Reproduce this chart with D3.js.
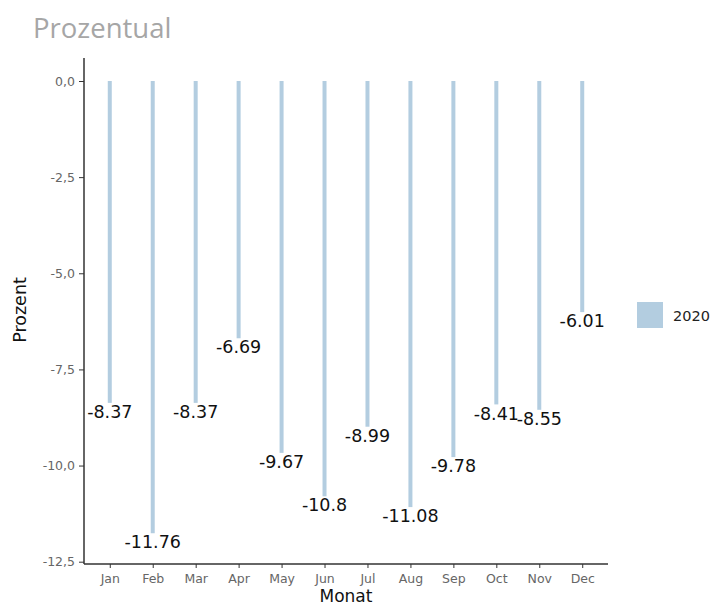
<!DOCTYPE html>
<html><head><meta charset="utf-8">
<script src="https://cdn.jsdelivr.net/npm/d3@7"></script>
<style>body{margin:0;background:#fff}svg{display:block}</style>
</head><body>
<script>
const months = ["Jan","Feb","Mar","Apr","May","Jun","Jul","Aug","Sep","Oct","Nov","Dec"];
const values2020 = [-8.37,-11.76,-8.37,-6.69,-9.67,-10.8,-8.99,-11.08,-9.78,-8.41,-8.55,-6.01];
const yTicks = [0,-2.5,-5,-7.5,-10,-12.5];
const seriesName = "2020";

(function(){
const W=715,H=606;
const svg=d3.select("body").append("svg").attr("width",W).attr("height",H);
const pLeft=84,pRight=608,pTop=58,pBottom=564;
const barColor="#b3cde0";

const x=d3.scalePoint().domain(months).range([pLeft,pRight]).padding(0.6);
const y=d3.scaleLinear().domain([-12.5,0]).range([561.7,81]);

svg.append("text").attr("x",33).attr("y",38).text("Prozentual")
  .attr("font-family","'Open Sans', 'Noto Sans', sans-serif").attr("font-size",27.5).attr("fill","#a6a6a6");

// bars
svg.selectAll("rect.bar").data(values2020).enter().append("rect")
  .attr("x",(d,i)=>x(months[i])-2).attr("width",4)
  .attr("y",y(0)).attr("height",d=>y(d)-y(0)).attr("fill",barColor);

// labels
svg.selectAll("text.lab").data(values2020).enter().append("text")
  .attr("x",(d,i)=>x(months[i])).attr("y",d=>y(d)+9).attr("dy","0.35em")
  .attr("text-anchor","middle").attr("font-family","'DejaVu Sans', sans-serif")
  .attr("font-size",17.5).attr("fill","#111").text(d=>String(d));

// axes
const fmt=d=>d3.format(".1f")(d).replace(".",",").replace("−","-");
const yAxis=svg.append("g").attr("transform",`translate(${pLeft},0)`)
  .call(d3.axisLeft(y).tickValues(yTicks).tickSize(5).tickPadding(4).tickFormat(fmt));
yAxis.select(".domain").remove();
svg.append("line").attr("x1",pLeft).attr("x2",pLeft).attr("y1",pTop).attr("y2",pBottom).attr("stroke","#333").attr("stroke-width",1.5);
yAxis.selectAll(".tick line").attr("stroke","#333");
yAxis.selectAll(".tick text").attr("font-family","'DejaVu Sans', sans-serif").attr("font-size",12.5).attr("fill","#666");

const xAxis=svg.append("g").attr("transform",`translate(0,${pBottom})`)
  .call(d3.axisBottom(x).tickSize(4).tickPadding(6));
xAxis.select(".domain").remove();
svg.append("line").attr("x1",pLeft).attr("x2",pRight).attr("y1",pBottom).attr("y2",pBottom).attr("stroke","#333").attr("stroke-width",1.5);
xAxis.selectAll(".tick line").attr("stroke","#333");
xAxis.selectAll(".tick text").attr("font-family","'DejaVu Sans', sans-serif").attr("font-size",12.5).attr("fill","#666");

svg.append("text").attr("x",346).attr("y",596).attr("dy","0.35em").attr("text-anchor","middle")
  .attr("font-family","'DejaVu Sans', sans-serif").attr("font-size",17).attr("fill","#111").text("Monat");
svg.append("text").attr("transform","translate(20,310) rotate(-90)").attr("dy","0.35em").attr("text-anchor","middle")
  .attr("font-family","'DejaVu Sans', sans-serif").attr("font-size",17.5).attr("fill","#111").text("Prozent");

// legend
svg.append("rect").attr("x",637).attr("y",302).attr("width",26).attr("height",26).attr("fill",barColor);
svg.append("text").attr("x",673).attr("y",316).attr("dy","0.35em")
  .attr("font-family","'DejaVu Sans', sans-serif").attr("font-size",14.5).attr("fill","#222").text(seriesName);
})();
</script>
</body></html>
